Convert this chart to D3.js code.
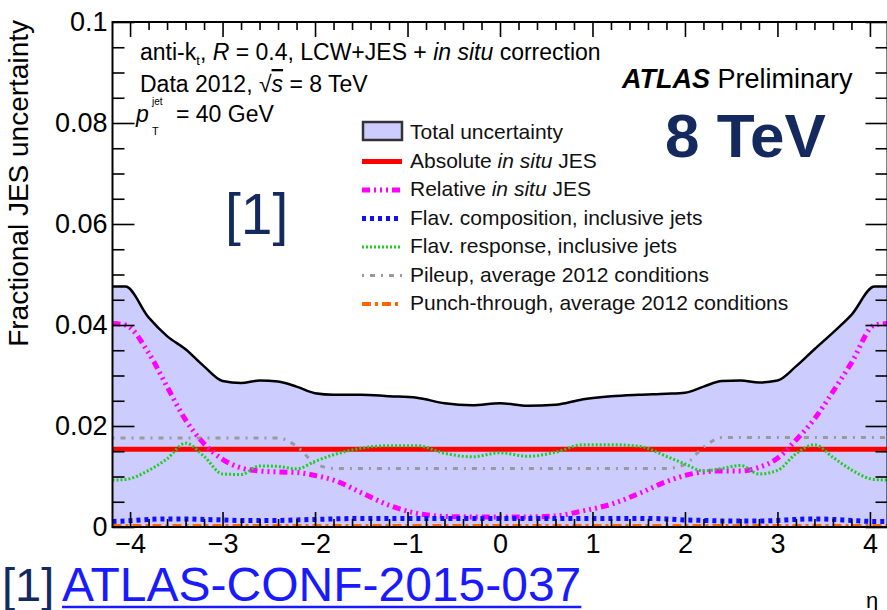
<!DOCTYPE html>
<html>
<head>
<meta charset="utf-8">
<script src="https://cdn.jsdelivr.net/npm/d3@7"></script>
<style>
  body { margin: 0; background: #fff; }
  text { font-family: "Liberation Sans", Arial, Helvetica, sans-serif; }
</style>
</head>
<body>
<div id="chart"></div>
<script>
// eta points and uncertainties
var eta = [-4.19, -4.05, -3.8, -3.6, -3.4, -3.2, -3.0, -2.8, -2.6, -2.4, -2.2, -2.0, -1.8, -1.5, -1.2, -0.9, -0.6, -0.3, 0,
  0.3, 0.6, 0.9, 1.2, 1.5, 1.8, 2.0, 2.2, 2.4, 2.6, 2.8, 3.0, 3.2, 3.4, 3.6, 3.8, 4.05, 4.19];

var totalUnc = [0.0476, 0.0476, 0.0415, 0.0378, 0.0352, 0.0318, 0.0289, 0.0285, 0.0290, 0.0288, 0.0278, 0.0265, 0.0262, 0.0262, 0.0259, 0.0256, 0.0245, 0.0241, 0.0245,
  0.0240, 0.0242, 0.0253, 0.0259, 0.0262, 0.0264, 0.0266, 0.0278, 0.0289, 0.0290, 0.0286, 0.0290, 0.0318, 0.0352, 0.0385, 0.0420, 0.0476, 0.0476];

var absoluteInSitu = [0.0154, 0.0154, 0.0154, 0.0154, 0.0154, 0.0154, 0.0154, 0.0154, 0.0154, 0.0154, 0.0154, 0.0154, 0.0154, 0.0154, 0.0154, 0.0154, 0.0154, 0.0154, 0.0154,
  0.0154, 0.0154, 0.0154, 0.0154, 0.0154, 0.0154, 0.0154, 0.0154, 0.0154, 0.0154, 0.0154, 0.0154, 0.0154, 0.0154, 0.0154, 0.0154, 0.0154, 0.0154];

var relativeInSitu = [0.0403, 0.0400, 0.0345, 0.0278, 0.0212, 0.0165, 0.0134, 0.0117, 0.0111, 0.0109, 0.0108, 0.0102, 0.0093, 0.0068, 0.0043, 0.0027, 0.0021, 0.0020, 0.0020,
  0.0020, 0.0022, 0.0032, 0.0045, 0.0066, 0.0090, 0.0102, 0.0109, 0.0111, 0.0111, 0.0118, 0.0136, 0.0172, 0.0214, 0.0268, 0.0325, 0.0400, 0.0403];

var flavComposition = [0.0011, 0.0012, 0.0015, 0.0016, 0.0016, 0.0015, 0.0014, 0.0013, 0.0013, 0.0013, 0.0014, 0.0015, 0.0016, 0.0017, 0.0017, 0.0017, 0.0017, 0.0017, 0.0017,
  0.0017, 0.0017, 0.0017, 0.0017, 0.0017, 0.0016, 0.0014, 0.0013, 0.0012, 0.0012, 0.0012, 0.0013, 0.0015, 0.0016, 0.0015, 0.0013, 0.0011, 0.0011];

var flavResponse = [0.0093, 0.0094, 0.0112, 0.0135, 0.0166, 0.0140, 0.0105, 0.0104, 0.0121, 0.0120, 0.0115, 0.0130, 0.0143, 0.0156, 0.0161, 0.0161, 0.0146, 0.0139, 0.0147,
  0.0140, 0.0148, 0.0163, 0.0163, 0.0160, 0.0140, 0.0125, 0.0111, 0.0116, 0.0122, 0.0105, 0.0112, 0.0145, 0.0163, 0.0138, 0.0113, 0.0094, 0.0093];

var pileup = [0.0176, 0.0176, 0.0176, 0.0176, 0.0176, 0.0176, 0.0176, 0.0176, 0.0176, 0.0176, 0.0160, 0.0126, 0.0116, 0.0116, 0.0116, 0.0116, 0.0116, 0.0116, 0.0116,
  0.0116, 0.0116, 0.0116, 0.0116, 0.0116, 0.0116, 0.0124, 0.0158, 0.0177, 0.0177, 0.0177, 0.0177, 0.0177, 0.0177, 0.0177, 0.0177, 0.0177, 0.0177];

var punchThrough = [0.0002, 0.0002, 0.0002, 0.0002, 0.0002, 0.0002, 0.0002, 0.0002, 0.0002, 0.0002, 0.0002, 0.0002, 0.0002, 0.0002, 0.0002, 0.0002, 0.0002, 0.0002, 0.0002,
  0.0002, 0.0002, 0.0002, 0.0002, 0.0002, 0.0002, 0.0002, 0.0002, 0.0002, 0.0002, 0.0002, 0.0002, 0.0002, 0.0002, 0.0002, 0.0002, 0.0002, 0.0002];

var legendLabels = [
  "Total uncertainty",
  "Absolute *in situ* JES",
  "Relative *in situ* JES",
  "Flav. composition, inclusive jets",
  "Flav. response, inclusive jets",
  "Pileup, average 2012 conditions",
  "Punch-through, average 2012 conditions"
];

var xMajorTicks = [-4, -3, -2, -1, 0, 1, 2, 3, 4];
var yMajorTicks = [0, 0.02, 0.04, 0.06, 0.08, 0.1];

// line styles, in legend order (after the total band)
var lineStyles = [
  { values: absoluteInSitu, color: "#ff0000", width: 5, dash: null },
  { values: relativeInSitu, color: "#ff00ff", width: 5, dash: "8,4,2,4,2,4,2,4" },
  { values: flavComposition, color: "#1010ff", width: 5, dash: "4,4" },
  { values: flavResponse, color: "#22cc22", width: 3, dash: "2,2" },
  { values: pileup, color: "#9a9a9a", width: 3, dash: "2,6,5,6" },
  { values: punchThrough, color: "#ff6600", width: 4, dash: "9,4,3,4" }
];
// drawing order inside the frame
var drawOrder = [0, 4, 1, 3, 2, 5];

var width = 887, height = 610;
var plot = { left: 112.5, right: 887.5, top: 22, bottom: 527 };

var svg = d3.select("#chart").append("svg")
  .attr("width", width)
  .attr("height", height);

var x = d3.scaleLinear().domain([-4.19, 4.19]).range([plot.left, plot.right]);
var y = d3.scaleLinear().domain([0, 0.1]).range([plot.bottom, plot.top]);

svg.append("clipPath").attr("id", "clip")
  .append("rect")
  .attr("x", plot.left).attr("y", plot.top)
  .attr("width", plot.right - plot.left).attr("height", plot.bottom - plot.top);

var g = svg.append("g").attr("clip-path", "url(#clip)");

// total uncertainty band
var area = d3.area()
  .x(function (d, i) { return x(eta[i]); })
  .y0(y(0))
  .y1(function (d) { return y(d); })
  .curve(d3.curveMonotoneX);

g.append("path")
  .datum(totalUnc)
  .attr("d", area)
  .style("fill", "#ccccff");

var line = d3.line()
  .x(function (d, i) { return x(eta[i]); })
  .y(function (d) { return y(d); })
  .curve(d3.curveMonotoneX);

g.append("path")
  .datum(totalUnc)
  .attr("d", line)
  .style("fill", "none")
  .style("stroke", "#000")
  .style("stroke-width", 2.5);

drawOrder.forEach(function (k) {
  var s = lineStyles[k];
  g.append("path")
    .datum(s.values)
    .attr("d", line)
    .style("fill", "none")
    .style("stroke", s.color)
    .style("stroke-width", s.width)
    .style("stroke-dasharray", s.dash);
});

// axes: ticks on all four sides pointing inwards
var xMinor = d3.range(-40, 41, 2).map(function (v) { return v / 10; })
  .filter(function (v) { return xMajorTicks.indexOf(v) < 0; });
var yMinor = d3.range(0, 101, 5).map(function (v) { return v / 1000; })
  .filter(function (v) { return yMajorTicks.indexOf(v) < 0; });

function axisGroup(axis, tx, ty) {
  var a = svg.append("g")
    .attr("transform", "translate(" + tx + "," + ty + ")")
    .style("font-size", "27px")
    .call(axis);
  a.select(".domain").remove();
  a.selectAll("line").style("stroke", "#000").style("stroke-width", 1.6);
  a.selectAll("text").style("font-family", "'Liberation Sans', Arial, Helvetica, sans-serif").style("fill", "#000");
  return a;
}

axisGroup(d3.axisBottom(x).tickValues(xMajorTicks).tickSize(-15).tickPadding(7), 0, plot.bottom);
axisGroup(d3.axisBottom(x).tickValues(xMinor).tickSize(-8).tickFormat(""), 0, plot.bottom);
axisGroup(d3.axisTop(x).tickValues(xMajorTicks).tickSize(-15).tickFormat(""), 0, plot.top);
axisGroup(d3.axisTop(x).tickValues(xMinor).tickSize(-8).tickFormat(""), 0, plot.top);

var yFmt = function (d) { return d === 0 ? "0" : d3.format(".2~f")(d); };
axisGroup(d3.axisLeft(y).tickValues(yMajorTicks).tickSize(-22).tickPadding(5).tickFormat(yFmt), plot.left, 0);
axisGroup(d3.axisLeft(y).tickValues(yMinor).tickSize(-12).tickFormat(""), plot.left, 0);
axisGroup(d3.axisRight(y).tickValues(yMajorTicks).tickSize(-22).tickFormat(""), plot.right, 0);
axisGroup(d3.axisRight(y).tickValues(yMinor).tickSize(-12).tickFormat(""), plot.right, 0);

// frame
svg.append("rect")
  .attr("x", plot.left).attr("y", plot.top)
  .attr("width", plot.right - plot.left).attr("height", plot.bottom - plot.top)
  .style("fill", "none").style("stroke", "#000").style("stroke-width", 2);

// axis titles
svg.append("text")
  .attr("transform", "translate(28," + 20 + ") rotate(-90)")
  .attr("text-anchor", "end")
  .style("font-size", "28px")
  .text("Fractional JES uncertainty");

svg.append("text")
  .attr("x", 866).attr("y", 608)
  .style("font-size", "22px")
  .text("η");

// helper for labels with *italic* parts
function richText(sel, label) {
  label.split("*").forEach(function (part, i) {
    if (part === "") return;
    sel.append("tspan").style("font-style", i % 2 ? "italic" : "normal").text(part);
  });
}

// legend
var legend = svg.append("g").attr("transform", "translate(362,131)");
legendLabels.forEach(function (lab, i) {
  var row = legend.append("g").attr("transform", "translate(0," + (i * 28.5) + ")");
  if (i === 0) {
    row.append("rect")
      .attr("x", 1).attr("y", -9).attr("width", 39).attr("height", 18)
      .style("fill", "#ccccff").style("stroke", "#333").style("stroke-width", 2.5);
  } else {
    var s = lineStyles[i - 1];
    row.append("line")
      .attr("x1", 0).attr("x2", 40).attr("y1", 2).attr("y2", 2)
      .style("stroke", s.color)
      .style("stroke-width", s.width)
      .style("stroke-dasharray", s.dash);
  }
  var t = row.append("text")
    .attr("x", 48).attr("y", 8)
    .style("font-size", "21px")
    .style("fill", "#111");
  richText(t, lab);
});

// plot annotations
var t1 = svg.append("text").attr("x", 140).attr("y", 60).style("font-size", "23px");
t1.append("tspan").text("anti-k");
t1.append("tspan").attr("dy", 5).style("font-size", "13px").text("t");
t1.append("tspan").attr("dy", -5).text(", ");
t1.append("tspan").style("font-style", "italic").text("R");
t1.append("tspan").text(" = 0.4, LCW+JES + ");
t1.append("tspan").style("font-style", "italic").text("in situ");
t1.append("tspan").text(" correction");

var t2 = svg.append("text").attr("x", 140).attr("y", 92).style("font-size", "23px");
t2.append("tspan").text("Data 2012, √");
t2.append("tspan").style("font-style", "italic").style("text-decoration", "overline").text("s");
t2.append("tspan").text(" = 8 TeV");

svg.append("text").attr("x", 136).attr("y", 122).style("font-size", "23px").style("font-style", "italic").text("p");
svg.append("text").attr("x", 152).attr("y", 105).style("font-size", "10px").text("jet");
svg.append("text").attr("x", 152).attr("y", 135).style("font-size", "11px").text("T");
svg.append("text").attr("x", 176).attr("y", 122).style("font-size", "23px").text("= 40 GeV");

var atl = svg.append("text").attr("x", 622).attr("y", 88).style("font-size", "27px");
atl.append("tspan").style("font-weight", "bold").style("font-style", "italic").text("ATLAS");
atl.append("tspan").text(" Preliminary");

svg.append("text")
  .attr("x", 665).attr("y", 157)
  .style("font-size", "62px").style("font-weight", "bold").style("fill", "#142a5e")
  .text("8 TeV");

svg.append("text")
  .attr("x", 225).attr("y", 234)
  .style("font-size", "57px").style("fill", "#142a5e")
  .text("[1]");

// reference below the plot
svg.append("text")
  .attr("x", 2).attr("y", 601)
  .style("font-size", "47px").style("fill", "#142a5e")
  .text("[1]");

var ref = svg.append("text")
  .attr("x", 62).attr("y", 601)
  .style("font-size", "48px").style("fill", "#1a1aff")
  .text("ATLAS-CONF-2015-037");
var bb = ref.node().getBBox();
svg.append("line")
  .attr("x1", bb.x).attr("x2", bb.x + bb.width)
  .attr("y1", 607).attr("y2", 607)
  .style("stroke", "#1a1aff").style("stroke-width", 2.5);
</script>
</body>
</html>
